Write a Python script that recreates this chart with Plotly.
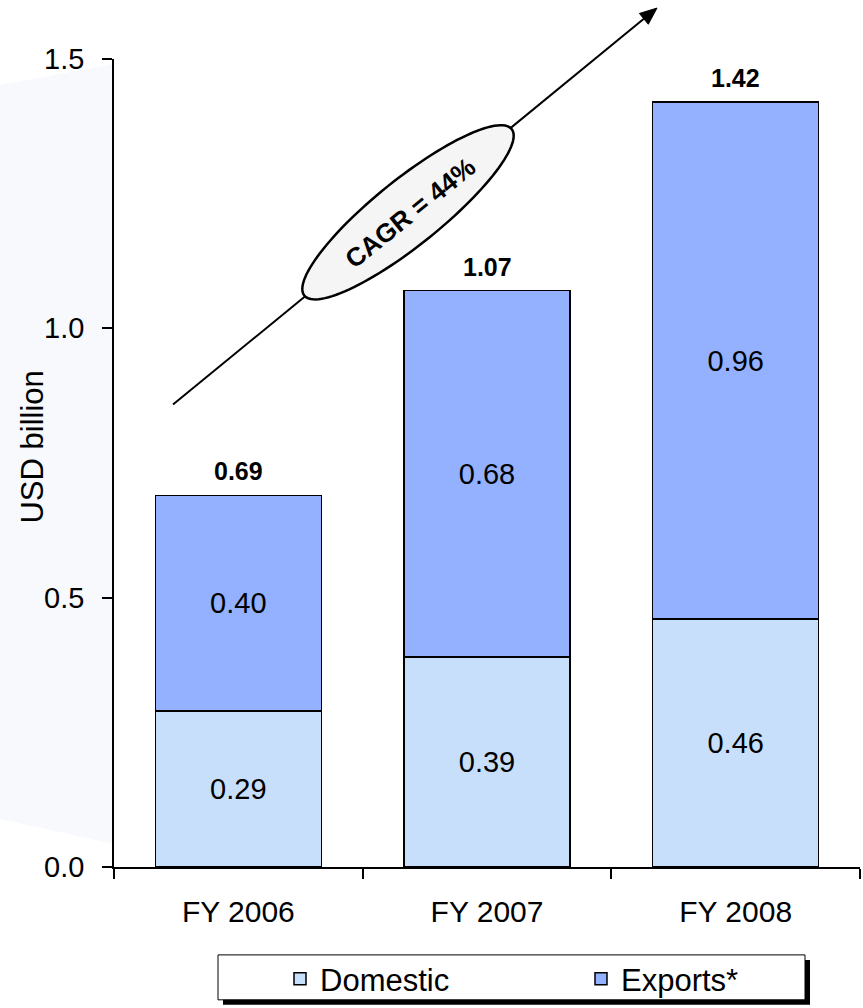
import math
import plotly.graph_objects as go

# ---- data -------------------------------------------------------------
years = ["FY 2006", "FY 2007", "FY 2008"]
domestic = [0.29, 0.39, 0.46]
exports = [0.40, 0.68, 0.96]
totals = [0.69, 1.07, 1.42]
y_ticks = [0.0, 0.5, 1.0, 1.5]
cagr_label = "CAGR = 44%"
y_title = "USD billion"

# ---- style ------------------------------------------------------------
FONT = "Arial, 'Liberation Sans', sans-serif"
DOMESTIC_COLOR = "#C7DFFA"
EXPORTS_COLOR = "#93B1FE"

W, H = 863, 1008
PLOT_L, PLOT_R, PLOT_T, PLOT_B = 114, 860, 59, 868


def px(x):
    """pixel column -> paper x"""
    return (x - PLOT_L) / (PLOT_R - PLOT_L)


def py(y):
    """pixel row -> paper y"""
    return (PLOT_B - y) / (PLOT_B - PLOT_T)


def poly_path(points):
    return "M " + " L ".join(f"{px(x):.5f},{py(y):.5f}" for x, y in points) + " Z"


fig = go.Figure()

bar_line = dict(color="black", width=1.5)
fig.add_trace(go.Bar(
    name="Domestic", x=years, y=domestic,
    marker=dict(color=DOMESTIC_COLOR, line=bar_line),
    texttemplate="%{y:.2f}", textposition="inside", insidetextanchor="middle",
    textangle=0, constraintext="none",
    textfont=dict(family=FONT, size=29, color="black"),
    hoverinfo="skip", legendwidth=256,
))
fig.add_trace(go.Bar(
    name="Exports*", x=years, y=exports,
    marker=dict(color=EXPORTS_COLOR, line=bar_line),
    texttemplate="%{y:.2f}", textposition="inside", insidetextanchor="middle",
    textangle=0, constraintext="none",
    textfont=dict(family=FONT, size=29, color="black"),
    hoverinfo="skip", legendwidth=140,
))

shapes = []

# faint backdrop panel left of the value axis
shapes.append(dict(
    type="path", xref="paper", yref="paper", layer="below",
    path=poly_path([(0, 85), (114, 64), (114, 845), (0, 820)]),
    fillcolor="#F7F9FD", line=dict(width=0),
))

# growth arrow
start = (173, 405)
tip = (657, 8)
dx, dy = tip[0] - start[0], tip[1] - start[1]
ln = math.hypot(dx, dy)
ux, uy = dx / ln, dy / ln
nx, ny = -uy, ux
head_len, head_half = 17, 7
base = (tip[0] - head_len * ux, tip[1] - head_len * uy)
shapes.append(dict(
    type="line", xref="paper", yref="paper", layer="above",
    x0=px(start[0]), y0=py(start[1]), x1=px(base[0]), y1=py(base[1]),
    line=dict(color="black", width=2),
))
shapes.append(dict(
    type="path", xref="paper", yref="paper", layer="above",
    path=poly_path([tip,
                    (base[0] + head_half * nx, base[1] + head_half * ny),
                    (base[0] - head_half * nx, base[1] - head_half * ny)]),
    fillcolor="black", line=dict(color="black", width=1),
))

# tilted ellipse holding the CAGR label
cx, cy = 408, 212.5
a, b = 133, 33
ang = math.radians(38.8)
mu = (math.cos(ang), -math.sin(ang))
mv = (math.sin(ang), math.cos(ang))
ell = []
for i in range(120):
    t = 2 * math.pi * i / 120
    ell.append((cx + a * math.cos(t) * mu[0] + b * math.sin(t) * mv[0],
                cy + a * math.cos(t) * mu[1] + b * math.sin(t) * mv[1]))
shapes.append(dict(
    type="path", xref="paper", yref="paper", layer="above",
    path=poly_path(ell), fillcolor="#F5F5F5", line=dict(color="black", width=2.5),
))

# legend frame with drop shadow
lg_x0, lg_y0, lg_x1, lg_y1 = 218, 956, 805, 1001
shapes.append(dict(
    type="rect", xref="paper", yref="paper", layer="above",
    x0=px(lg_x0 + 5), y0=py(lg_y0 + 5), x1=px(lg_x1 + 5), y1=py(lg_y1 + 5),
    fillcolor="black", line=dict(width=0),
))
shapes.append(dict(
    type="rect", xref="paper", yref="paper", layer="above",
    x0=px(lg_x0), y0=py(lg_y0), x1=px(lg_x1), y1=py(lg_y1),
    fillcolor="white", line=dict(color="black", width=1),
))

annotations = [dict(
    xref="paper", yref="paper", x=px(410), y=py(213),
    text=f"<b>{cagr_label}</b>", showarrow=False, textangle=-38.8,
    font=dict(family=FONT, size=26, color="black"),
    xanchor="center", yanchor="middle",
)]

# bold totals above each stack
for yr, tot in zip(years, totals):
    annotations.append(dict(
        xref="x", yref="y", x=yr, y=tot,
        text=f"<b>{tot:.2f}</b>", showarrow=False,
        xanchor="center", yanchor="bottom", yshift=8,
        font=dict(family=FONT, size=25, color="black"),
    ))

# value-axis title
annotations.append(dict(
    xref="paper", yref="paper", x=px(33), y=py(448),
    text=y_title, showarrow=False, textangle=-90,
    xanchor="center", yanchor="middle",
    font=dict(family=FONT, size=31, color="black"),
))

fig.update_layout(
    width=W, height=H,
    template="none",
    margin=dict(l=PLOT_L, r=W - PLOT_R, t=PLOT_T, b=H - PLOT_B, pad=0),
    paper_bgcolor="white", plot_bgcolor="white",
    barmode="stack", bargap=0.333,
    font=dict(family=FONT, size=29, color="black"),
    showlegend=True,
    legend=dict(
        orientation="h", traceorder="normal",
        x=px(280), xanchor="left", y=py(979), yanchor="middle",
        bgcolor="rgba(0,0,0,0)", borderwidth=0,
        font=dict(family=FONT, size=31, color="black"),
    ),
    shapes=shapes,
    annotations=annotations,
)

fig.update_xaxes(
    type="category", automargin=False,
    showline=True, linecolor="black", linewidth=1.5,
    ticks="outside", tickson="boundaries", ticklen=10, tickwidth=1.5, tickcolor="black",
    ticklabelstandoff=17,
    tickfont=dict(family=FONT, size=30, color="black"),
    showgrid=False, zeroline=False,
)
fig.update_yaxes(
    range=[0, 1.5], automargin=False,
    tickvals=y_ticks, tickformat=".1f",
    showline=True, linecolor="black", linewidth=1.5,
    ticks="outside", ticklen=10, tickwidth=1.5, tickcolor="black",
    ticklabelstandoff=12,
    tickfont=dict(family=FONT, size=29, color="black"),
    showgrid=False, zeroline=False,
)

fig.write_html("out.html")
